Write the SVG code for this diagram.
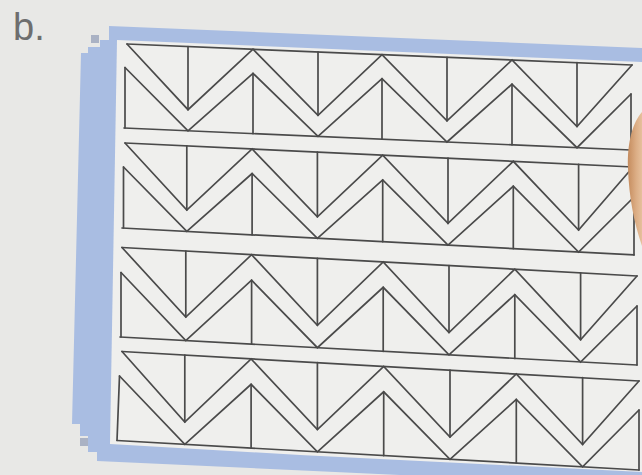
<svg xmlns="http://www.w3.org/2000/svg" width="642" height="475" viewBox="0 0 642 475">
<defs>
<style>
.ln{fill:none;stroke:#4a4a4a;stroke-width:1.7;stroke-linejoin:miter;stroke-linecap:round}
</style>
<linearGradient id="fing" x1="0" y1="0" x2="1" y2="0">
<stop offset="0" stop-color="#c58c5e"/>
<stop offset="0.6" stop-color="#dcae86"/>
<stop offset="1" stop-color="#e6c09c"/>
</linearGradient>
</defs>
<rect x="0" y="0" width="642" height="475" fill="#e8e8e6"/>
<text x="13" y="40" font-family="Liberation Sans, Arial, sans-serif" font-size="38" fill="#6e6e6e">b.</text>
<g id="frame">
<polygon fill="#a9bde2" points="109,26 642,48 642,475 400,475 97,461 97,452 88,452 88,436 80,436 80,424 72,424 81,53 88,53 88,47 100,47 100,40 109,40"/>
<rect x="91" y="35" width="8" height="8" fill="#aab2c4"/>
<rect x="80" y="438" width="8" height="8" fill="#aab2c4"/>
<polygon fill="#efefed" points="117,40 642,62 642,472 300,455 110,444"/>
</g>
<g id="connectors">
<g id="strip1">
<polyline class="ln" points="127,44 632,65"/>
<polyline class="ln" points="124,128 631,150"/>
<polyline class="ln" points="127,44 188,109.7 253,49.2 318,115.3 382,54.6 447,120.8 512,60 577,126.5 632,65"/>
<polyline class="ln" points="125,67.5 188,130.8 253,73.3 318,136.4 382,78.7 447,142 512,84.2 577,147.7 631,94"/>
<path class="ln" d="M125,67.5V128M631,94V150M188,46.5V109.7M318,51.9V115.3M447,57.3V120.8M577,62.7V126.5M253,73.3V133.6M382,78.7V139.2M512,84.2V144.8"/>
</g>
<g id="strip2">
<polyline class="ln" points="125,143 633,167"/>
<polyline class="ln" points="122,228 634,254.9"/>
<polyline class="ln" points="125,143 186.8,210 252.1,149 317.4,216.8 382.7,155.2 448,223.4 513.3,161.3 578.6,230.1 633,167"/>
<polyline class="ln" points="123.5,167 186.8,231.4 252.1,173.5 317.4,238.3 382.7,179.9 448,245.1 513.3,186.2 578.6,252 634,197"/>
<path class="ln" d="M123.5,167V228M634,197V254.9M186.8,145.9V210M317.4,152.1V216.8M448,158.2V223.4M578.6,164.4V230.1M252.1,173.5V234.8M382.7,179.9V241.7M513.3,186.2V248.6"/>
</g>
<g id="strip3">
<polyline class="ln" points="122,247.5 637,276"/>
<polyline class="ln" points="120,337 637,365"/>
<polyline class="ln" points="122,247.5 185.8,317 251.6,254.7 317.4,325.3 383.2,261.9 449,332.5 514.8,269.2 580.6,339.7 637,276"/>
<polyline class="ln" points="121,272.5 185.8,340.6 251.6,280.2 317.4,347.7 383.2,287.3 449,354.8 514.8,294.6 580.6,362 637,306"/>
<path class="ln" d="M121,272.5V337M637,306V365M185.8,251V317M317.4,258.3V325.3M449,265.6V332.5M580.6,272.9V339.7M251.6,280.2V344.1M383.2,287.3V351.3M514.8,294.6V358.4"/>
</g>
<g id="strip4">
<polyline class="ln" points="122,351.5 639,381"/>
<polyline class="ln" points="117,440.5 639,470"/>
<polyline class="ln" points="122,351.5 184.8,422 251.1,358.9 317.4,429.5 383.7,366.4 450,437 516.3,374 582.6,444.5 639,381"/>
<polyline class="ln" points="119.5,376 184.8,444.3 251.1,384.3 317.4,451.8 383.7,391.8 450,459.3 516.3,399.4 582.6,466.8 639,410"/>
<path class="ln" d="M119.5,376L117,440.5M639,410V470M184.8,355.1V422M317.4,362.6V429.5M450,370.2V437M582.6,377.7V444.5M251.1,384.3V448.1M383.7,391.8V455.6M516.3,399.4V463.1"/>
</g>
</g>
<path id="finger" d="M642,112 C633,122 627,142 628,168 C629,198 634,222 642,246 Z" fill="url(#fing)"/>
</svg>
